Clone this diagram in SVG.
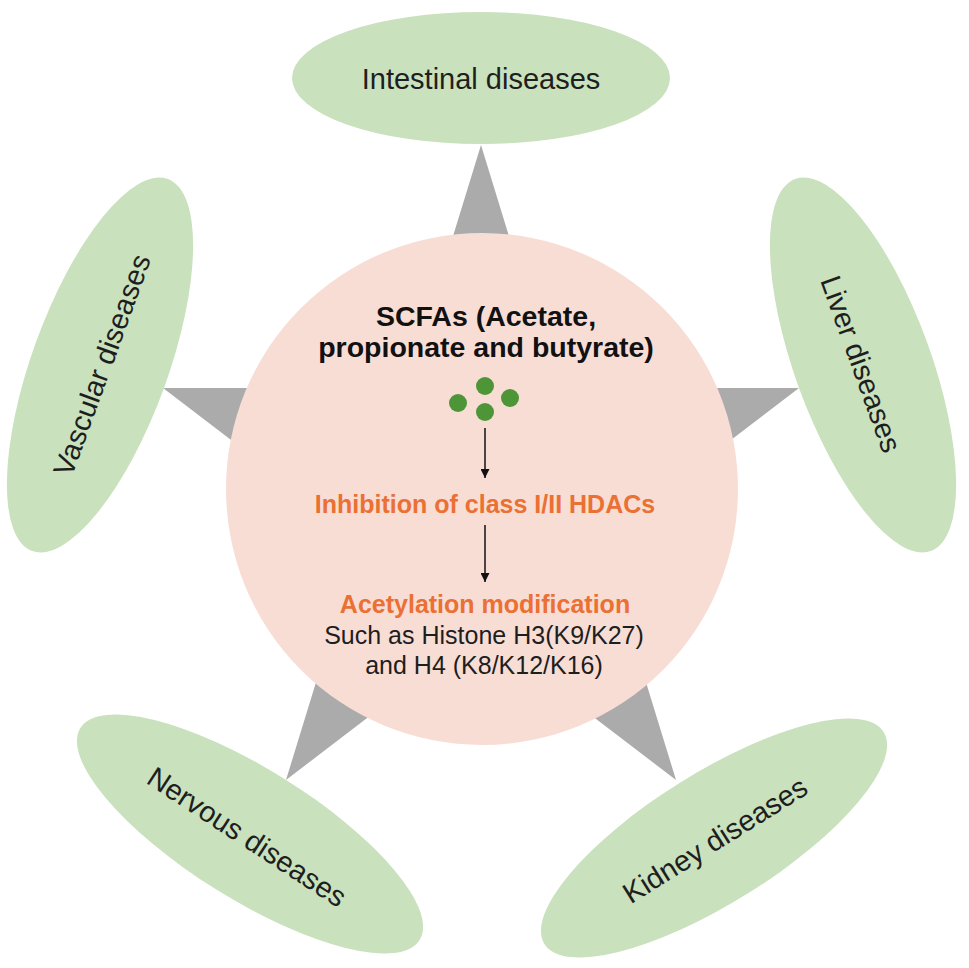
<svg xmlns="http://www.w3.org/2000/svg" width="969" height="968" viewBox="0 0 969 968">
<style>
.lbl{font-family:"Liberation Sans",Arial,sans-serif;font-size:29px;fill:#1e1e1e;text-anchor:middle;dominant-baseline:central}
.ell{fill:#c9e1bd}
.hdr{font-family:"Liberation Sans",Arial,sans-serif;font-size:28.5px;font-weight:bold;fill:#111;text-anchor:middle}
.org{font-family:"Liberation Sans",Arial,sans-serif;font-size:25px;font-weight:bold;fill:#ea7033;text-anchor:middle}
.reg{font-family:"Liberation Sans",Arial,sans-serif;font-size:25px;fill:#1e1e1e;text-anchor:middle}
.dot{fill:#4d9537}
.arr{stroke:#111;stroke-width:1.5;fill:none;marker-end:url(#ah)}
</style>
<defs>
<marker id="ah" viewBox="0 0 10 10" refX="10" refY="5" markerWidth="6" markerHeight="6" orient="auto" markerUnits="strokeWidth">
<path d="M0,0 L10,5 L0,10 z" fill="#111"/>
</marker>
</defs>
<rect width="969" height="968" fill="#ffffff"/>
<g id="star">
<path d="M481,145 L286,780 L799,388 L163,388 L676,780 Z" fill="#ababab"/>
</g>
<g id="hub">
<circle cx="482" cy="489" r="256" fill="#f8ddd5"/>
<text class="hdr" x="486" y="326">SCFAs (Acetate,</text>
<text class="hdr" x="486" y="357">propionate and butyrate)</text>
<circle class="dot" cx="458" cy="403" r="9"/>
<circle class="dot" cx="485" cy="386" r="9"/>
<circle class="dot" cx="510" cy="398" r="9"/>
<circle class="dot" cx="485" cy="412" r="9"/>
<text class="org" x="485" y="513">Inhibition of class I/II HDACs</text>
<text class="org" x="485" y="613">Acetylation modification</text>
<text class="reg" x="484" y="644">Such as Histone H3(K9/K27)</text>
<text class="reg" x="484" y="674">and H4 (K8/K12/K16)</text>
</g>
<g id="intestinal">
<ellipse class="ell" cx="481" cy="78" rx="189" ry="66"/>
<text class="lbl" x="481" y="79">Intestinal diseases</text>
</g>
<g id="vascular">
<ellipse class="ell" cx="0" cy="0" rx="68" ry="198" transform="translate(100,365) rotate(20)"/>
<text class="lbl" x="0" y="0" transform="translate(102,365) rotate(-70)">Vascular diseases</text>
</g>
<g id="liver">
<ellipse class="ell" cx="0" cy="0" rx="68" ry="198" transform="translate(863,365) rotate(-20)"/>
<text class="lbl" x="0" y="0" transform="translate(861,364) rotate(70)">Liver diseases</text>
</g>
<g id="nervous">
<ellipse class="ell" cx="0" cy="0" rx="200" ry="65" transform="translate(250,834) rotate(32)"/>
<text class="lbl" x="0" y="0" transform="translate(247,837) rotate(33)">Nervous diseases</text>
</g>
<g id="kidney">
<ellipse class="ell" cx="0" cy="0" rx="200" ry="65" transform="translate(714,838) rotate(-32)"/>
<text class="lbl" x="0" y="0" transform="translate(715,840) rotate(-32)">Kidney diseases</text>
</g>
<g id="connectors">
<line class="arr" x1="485" y1="428" x2="485" y2="478"/>
<line class="arr" x1="485" y1="525" x2="485" y2="582"/>
</g>
</svg>
